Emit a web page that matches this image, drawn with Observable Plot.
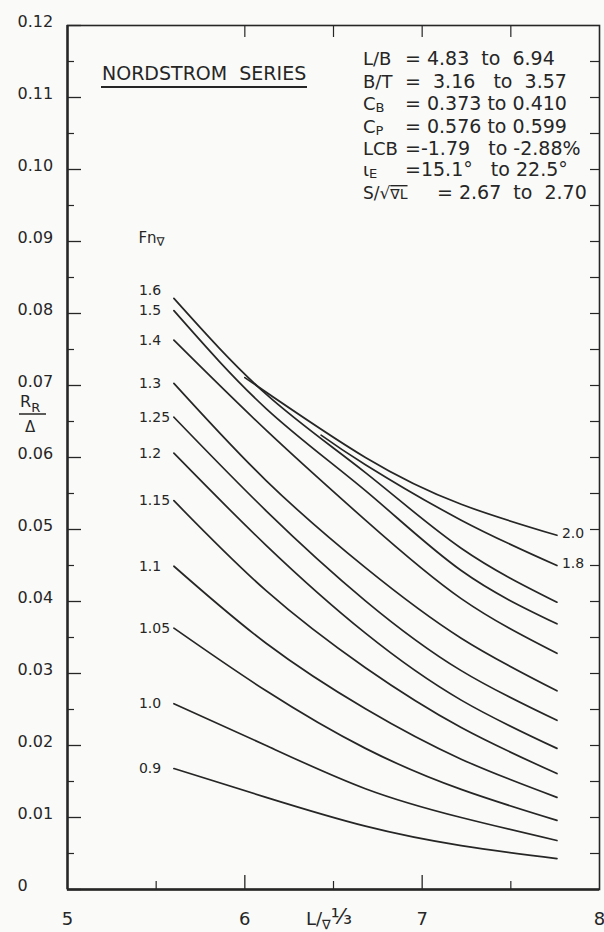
<!DOCTYPE html>
<html><head><meta charset="utf-8">
<script src="https://cdn.jsdelivr.net/npm/d3@7"></script>
<script src="https://cdn.jsdelivr.net/npm/@observablehq/plot@0.6"></script>
<style>
html,body{margin:0;padding:0;background:#fafaf8;}
#chart svg{display:block;}
</style></head><body><div id="chart"></div>
<script>
// ---- data ----
const xCols   = [5.6, 6.12, 6.68, 7.22, 7.76];   // L/∇^1/3 sample positions
const xCols18 = [6.43, 6.68, 7.22, 7.76];
const xCols20 = [6.0, 6.68, 7.22, 7.76];
const rr_0_90 = [0.0168, 0.0128, 0.0088, 0.0061, 0.0043];
const rr_1_00 = [0.0258, 0.0200, 0.0140, 0.0100, 0.0068];
const rr_1_05 = [0.0363, 0.0276, 0.0196, 0.0139, 0.0096];
const rr_1_10 = [0.0449, 0.0342, 0.0251, 0.0181, 0.0128];
const rr_1_15 = [0.0540, 0.0415, 0.0308, 0.0225, 0.0161];
const rr_1_20 = [0.0606, 0.0478, 0.0356, 0.0263, 0.0196];
const rr_1_25 = [0.0656, 0.0526, 0.0401, 0.0304, 0.0235];
const rr_1_30 = [0.0703, 0.0568, 0.0447, 0.0349, 0.0276];
const rr_1_40 = [0.0763, 0.0638, 0.0513, 0.0404, 0.0328];
const rr_1_50 = [0.0804, 0.0668, 0.0554, 0.0443, 0.0369];
const rr_1_60 = [0.0821, 0.0688, 0.0579, 0.0474, 0.0399];
const rr_1_80 = [0.0631, 0.0590, 0.0513, 0.0450];
const rr_2_00 = [0.0711, 0.0600, 0.0535, 0.0492];

const yTickValues  = [0, 0.01, 0.02, 0.03, 0.04, 0.05, 0.06, 0.07, 0.08, 0.09, 0.10, 0.11, 0.12];
const yMinorValues = [0.005, 0.015, 0.025, 0.035, 0.045, 0.055, 0.065, 0.075, 0.085, 0.095, 0.105, 0.115];
const xTickValues  = [5, 6, 7, 8];
const xMinorValues = [5.5, 6.5, 7.5];

const titleText = "NORDSTROM  SERIES";
const paramNames = ["L/B", "B/T", "C|B", "C|P", "LCB", "ι|E", "S/√|∇L"];
const paramRanges = ["= 4.83  to  6.94", "=  3.16   to  3.57", "= 0.373 to 0.410", "= 0.576 to 0.599",
                     "=-1.79   to -2.88%", "=15.1°   to 22.5°", "= 2.67  to  2.70"];

const series = [
  {fn: "0.9",  xs: xCols, v: rr_0_90, side: "left"},
  {fn: "1.0",  xs: xCols, v: rr_1_00, side: "left"},
  {fn: "1.05", xs: xCols, v: rr_1_05, side: "left"},
  {fn: "1.1",  xs: xCols, v: rr_1_10, side: "left"},
  {fn: "1.15", xs: xCols, v: rr_1_15, side: "left"},
  {fn: "1.2",  xs: xCols, v: rr_1_20, side: "left"},
  {fn: "1.25", xs: xCols, v: rr_1_25, side: "left"},
  {fn: "1.3",  xs: xCols, v: rr_1_30, side: "left"},
  {fn: "1.4",  xs: xCols, v: rr_1_40, side: "left"},
  {fn: "1.5",  xs: xCols, v: rr_1_50, side: "left"},
  {fn: "1.6",  xs: xCols, v: rr_1_60, side: "left"},
  {fn: "1.8",  xs: xCols18, v: rr_1_80, side: "right"},
  {fn: "2.0",  xs: xCols20, v: rr_2_00, side: "right"}
];
const rows = series.flatMap(s => s.xs.map((x, i) => ({fn: s.fn, x, v: s.v[i]})));
const leftLab = series.filter(s => s.side === "left").map(s => ({fn: s.fn, x: s.xs[0], v: s.v[0]}));
const rightLab = series.filter(s => s.side === "right").map(s => ({fn: s.fn, x: s.xs[s.xs.length - 1], v: s.v[s.v.length - 1]}));

const W = 604, H = 932, mL = 67, mR = 5, mT = 25, mB = 43;
const iw = W - mL - mR, ih = H - mT - mB;
const ink = "#262626";

const plot = Plot.plot({
  width: W, height: H,
  marginLeft: mL, marginRight: mR, marginTop: mT, marginBottom: mB,
  x: {domain: [5, 8], label: null},
  y: {domain: [0, 0.12], label: null},
  style: {fontFamily: "'DejaVu Sans', sans-serif", fontSize: "16px", color: ink, background: "transparent", overflow: "visible"},
  marks: [
    Plot.frame({stroke: ink, strokeWidth: 1.6}),
    Plot.ruleX([5], {stroke: ink, strokeWidth: 2.4}),
    Plot.ruleY([0], {stroke: ink, strokeWidth: 2.4}),
    Plot.tickY(yTickValues, {y: d => d, insetRight: iw - 14, stroke: ink, strokeWidth: 1.3}),
    Plot.tickY(yMinorValues, {y: d => d, insetRight: iw - 7, stroke: ink, strokeWidth: 1.2}),
    Plot.tickY(yMinorValues.concat(yTickValues.slice(1, -1)), {y: d => d, insetLeft: iw - 9, stroke: ink, strokeWidth: 1.2}),
    Plot.tickX(xTickValues.slice(1, -1), {x: d => d, insetTop: ih - 14, stroke: ink, strokeWidth: 1.3}),
    Plot.tickX(xMinorValues, {x: d => d, insetTop: ih - 8, stroke: ink, strokeWidth: 1.2}),
    Plot.tickX(xTickValues.slice(1, -1).concat(xMinorValues.slice(1)), {x: d => d, insetBottom: ih - 12, stroke: ink, strokeWidth: 1.2}),
    Plot.axisY(yTickValues, {tickSize: 0, tickPadding: 50, textAnchor: "start", dy: -4, fontSize: 16,
      tickFormat: d => d === 0 ? "0" : d.toFixed(2), fill: ink}),
    Plot.axisX(xTickValues, {tickSize: 0, tickPadding: 23, fontSize: 18, tickFormat: d => String(d), fill: ink}),
    Plot.line(rows, {x: "x", y: "v", z: "fn", curve: "natural", stroke: ink, strokeWidth: 1.7}),
    Plot.text(leftLab.filter(d => d.fn !== "1.6"), {x: "x", y: "v", text: "fn", textAnchor: "start", dx: -35, fontSize: 14, fill: ink}),
    Plot.text(leftLab.filter(d => d.fn === "1.6"), {x: "x", y: "v", text: "fn", textAnchor: "start", dx: -35, dy: -8, fontSize: 14, fill: ink}),
    Plot.text(rightLab, {x: "x", y: "v", text: "fn", textAnchor: "start", dx: 5, dy: -2, fontSize: 14, fill: ink})
  ]
});
document.getElementById("chart").appendChild(plot);

// ---- annotations ----
const sx = plot.scale("x"), sy = plot.scale("y");
const svg = d3.select(plot);
const g = svg.append("g").attr("fill", ink).attr("text-anchor", "start")
  .style("font-family", "'DejaVu Sans', sans-serif").style("white-space", "pre");

// series title
g.append("text").attr("x", 102).attr("y", 80).attr("font-size", 19).text(titleText);
g.append("line").attr("x1", 101).attr("x2", 307).attr("y1", 87).attr("y2", 87).attr("stroke", ink).attr("stroke-width", 2.2);

// parameter block
const baselines = [65, 88, 110, 133, 155, 176, 199];
paramNames.forEach((n, i) => {
  const t = g.append("text").attr("x", 363).attr("y", baselines[i]).attr("font-size", 18);
  const parts = n.split("|");
  if (parts.length === 1) t.text(parts[0]);
  else if (n.startsWith("S/")) {
    t.append("tspan").attr("font-size", 17).text(parts[0]);
    t.append("tspan").attr("font-size", 14).style("text-decoration", "overline").text(parts[1]);
  } else {
    t.append("tspan").text(parts[0]);
    t.append("tspan").attr("dy", 2).attr("font-size", 13).text(parts[1]);
  }
  g.append("text").attr("x", n.startsWith("S/") ? 437 : 405).attr("y", baselines[i]).attr("font-size", 19)
    .text(paramRanges[i]);
});

// Fn∇ header over the left labels
const p16 = leftLab.find(d => d.fn === "1.6");
const fnT = g.append("text").attr("x", sx.apply(p16.x) - 35).attr("y", sy.apply(p16.v) - 55).attr("font-size", 15);
fnT.append("tspan").text("Fn");
fnT.append("tspan").attr("dy", 3).attr("font-size", 12).text("∇");

// y-axis quantity R_R / Δ
const yl = g.append("text").attr("x", 20).attr("y", 407).attr("font-size", 16);
yl.append("tspan").text("R");
yl.append("tspan").attr("dy", 5).attr("font-size", 13).text("R");
g.append("line").attr("x1", 19).attr("x2", 46).attr("y1", 414).attr("y2", 414).attr("stroke", ink).attr("stroke-width", 1.5);
g.append("text").attr("x", 25).attr("y", 432).attr("font-size", 15).text("Δ");

// x-axis quantity L/∇^1/3
const xl = g.append("text").attr("x", (sx.apply(6) + sx.apply(7)) / 2 - 27).attr("y", 925).attr("font-size", 18);
xl.append("tspan").text("L/");
xl.append("tspan").attr("dy", 4).attr("font-size", 13).text("∇");
xl.append("tspan").attr("dy", -5).attr("font-size", 22).text("⅓");
</script></body></html>
